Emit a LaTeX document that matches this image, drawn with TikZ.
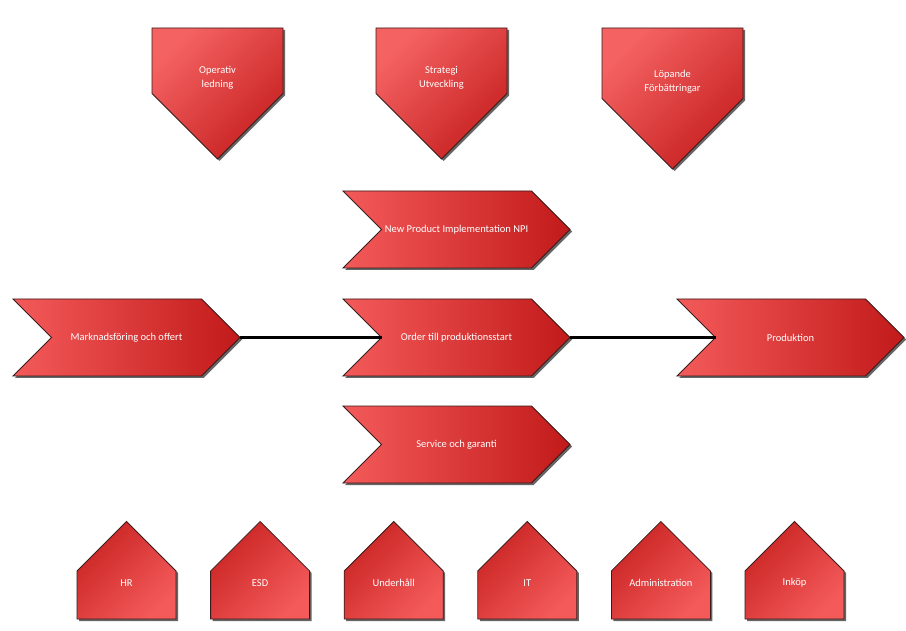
\documentclass[tikz,border=0pt]{standalone}
\usepackage{fontspec}
\setmainfont{Carlito}
\usetikzlibrary{shadows}

\definecolor{redlight}{HTML}{F45A5A}
\definecolor{reddark}{HTML}{C21A1A}
\definecolor{edgebrown}{HTML}{3A1C1C}

\tikzset{
  boxshadow/.style={drop shadow={shadow xshift=2pt, shadow yshift=-2pt, fill=black!80, opacity=0.75}},
  chev/.style={draw=edgebrown, line width=0.8pt, boxshadow, top color=redlight, bottom color=reddark, shading angle=90},
  pent/.style={draw=edgebrown, line width=0.8pt, boxshadow, top color=redlight!95, bottom color=reddark!90!redlight, shading angle=45},
  house/.style={draw=edgebrown, line width=0.8pt, boxshadow, top color=reddark!85!redlight, bottom color=redlight, shading angle=45},
  lbl/.style={text=white, font=\fontsize{10.5}{14.5}\selectfont, align=center, inner sep=0pt},
  conn/.style={line width=2.2pt, black}
}

\begin{document}
\begin{tikzpicture}[x=1pt, y=1pt, >=latex]

	% Frame
	\fill[white] (0,0) rectangle (906,-631);
	\useasboundingbox (0,0) rectangle (906,-631);

	% Top pentagons
	\foreach \nm/\L/\W/\txt in {opled/152/131/{Operativ\\ledning}, strat/376/131/{Strategi\\Utveckling}, lopf/602/141/{Löpande\\Förbättringar}} {
		\draw[pent] (\L,-28) -- ++(\W,0) -- ++(0,-\W/2) -- ++(-\W/2,-\W/2) -- ++(-\W/2,\W/2) -- cycle;
		\node[lbl] (\nm) at (\L+\W/2,-28-0.38*\W) {\txt};
	}

	% Process chevrons
	\foreach \nm/\L/\Y/\txt in {npi/343/229.5/{New Product Implementation NPI}, mark/13/337.5/{Marknadsföring och offert}, order/343/337.5/{Order till produktionsstart}, prod/677/337.5/{Produktion}, serv/343/444.5/{Service och garanti}} {
		\draw[chev] (\L,-\Y+38.5) -- ++(188.5,0) -- ++(38.5,-38.5) -- ++(-38.5,-38.5) -- ++(-188.5,0) -- ++(38.5,38.5) -- cycle;
		\node[lbl] (\nm) at (\L+113.5,-\Y) {\txt};
		\coordinate (\nm-tip) at (\L+227,-\Y);
		\coordinate (\nm-notch) at (\L+38.5,-\Y);
	}

	% Connectors
	\draw[conn] (mark-tip) -- (order-notch);
	\draw[conn] (order-tip) -- (prod-notch);

	% Support houses
	\foreach \nm/\txt [count=\i from 0] in {hr/HR, esd/ESD, uh/Underhåll, it/IT, adm/Administration, ink/Inköp} {
		\pgfmathsetmacro\L{77+133.6*\i}
		\draw[house] (\L,-619) -- ++(99,0) -- ++(0,48) -- ++(-49.5,49.5) -- ++(-49.5,-49.5) -- cycle;
		\node[lbl] (\nm) at (\L+49.5,-583) {\txt};
	}

\end{tikzpicture}
\end{document}
